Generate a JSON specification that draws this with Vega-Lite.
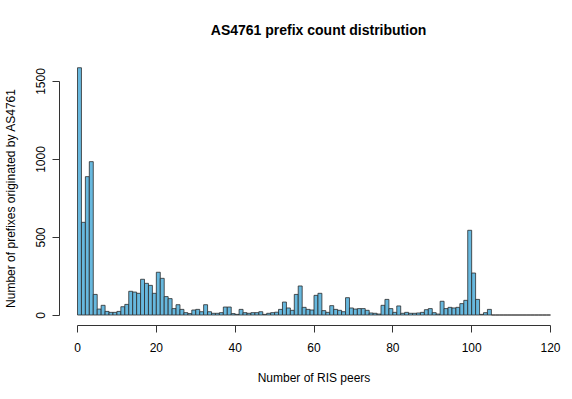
{
  "$schema": "https://vega.github.io/schema/vega-lite/v6.json",
  "width": 473,
  "height": 234,
  "autosize": {"type": "none"},
  "padding": {"left": 77, "top": 81, "right": 22, "bottom": 84},
  "background": "white",
  "title": {
    "text": "AS4761 prefix count distribution",
    "font": "Liberation Sans",
    "fontSize": 14,
    "fontWeight": "bold",
    "color": "black",
    "anchor": "middle",
    "offset": 29,
    "dx": 5
  },
  "config": {
    "view": {"stroke": null},
    "axis": {"labelFont": "Liberation Sans", "titleFont": "Liberation Sans", "labelFontSize": 12, "titleFontSize": 12, "titleFontWeight": "normal", "labelColor": "black", "titleColor": "black", "domainColor": "#333333", "tickColor": "#333333", "grid": false, "tickSize": 7, "labelFlush": false, "labelOverlap": false}
  },
  "data": {
    "values": [
      {"n":0,"c":1585},{"n":1,"c":594},{"n":2,"c":887},{"n":3,"c":983},{"n":4,"c":132},{"n":5,"c":38},{"n":6,"c":62},{"n":7,"c":23},{"n":8,"c":17},{"n":9,"c":17},
      {"n":10,"c":23},{"n":11,"c":53},{"n":12,"c":68},{"n":13,"c":152},{"n":14,"c":147},{"n":15,"c":139},{"n":16,"c":229},{"n":17,"c":203},{"n":18,"c":190},{"n":19,"c":139},
      {"n":20,"c":274},{"n":21,"c":235},{"n":22,"c":118},{"n":23,"c":105},{"n":24,"c":41},{"n":25,"c":66},{"n":26,"c":36},{"n":27,"c":15},{"n":28,"c":9},{"n":29,"c":32},
      {"n":30,"c":36},{"n":31,"c":21},{"n":32,"c":66},{"n":33,"c":21},{"n":34,"c":11},{"n":35,"c":11},{"n":36,"c":15},{"n":37,"c":51},{"n":38,"c":51},{"n":39,"c":9},
      {"n":40,"c":4},{"n":41,"c":36},{"n":42,"c":15},{"n":43,"c":11},{"n":44,"c":15},{"n":45,"c":15},{"n":46,"c":21},{"n":47,"c":4},{"n":48,"c":11},{"n":49,"c":15},
      {"n":50,"c":18},{"n":51,"c":36},{"n":52,"c":83},{"n":53,"c":45},{"n":54,"c":30},{"n":55,"c":132},{"n":56,"c":186},{"n":57,"c":49},{"n":58,"c":36},{"n":59,"c":32},
      {"n":60,"c":126},{"n":61,"c":139},{"n":62,"c":28},{"n":63,"c":17},{"n":64,"c":60},{"n":65,"c":36},{"n":66,"c":30},{"n":67,"c":21},{"n":68,"c":111},{"n":69,"c":45},
      {"n":70,"c":38},{"n":71,"c":41},{"n":72,"c":41},{"n":73,"c":30},{"n":74,"c":13},{"n":75,"c":11},{"n":76,"c":6},{"n":77,"c":62},{"n":78,"c":100},{"n":79,"c":41},
      {"n":80,"c":17},{"n":81,"c":58},{"n":82,"c":11},{"n":83,"c":17},{"n":84,"c":11},{"n":85,"c":11},{"n":86,"c":13},{"n":87,"c":17},{"n":88,"c":34},{"n":89,"c":41},
      {"n":90,"c":15},{"n":91,"c":6},{"n":92,"c":88},{"n":93,"c":41},{"n":94,"c":49},{"n":95,"c":45},{"n":96,"c":49},{"n":97,"c":73},{"n":98,"c":94},{"n":99,"c":543},
      {"n":100,"c":269},{"n":101,"c":100},{"n":102,"c":4},{"n":103,"c":15},{"n":104,"c":36},{"n":105,"c":0},{"n":106,"c":0},{"n":107,"c":0},{"n":108,"c":0},{"n":109,"c":0},
      {"n":110,"c":0},{"n":111,"c":0},{"n":112,"c":0},{"n":113,"c":0},{"n":114,"c":0},{"n":115,"c":0},{"n":116,"c":0},{"n":117,"c":0},{"n":118,"c":0},{"n":119,"c":0}
    ]
  },
  "mark": {"type": "bar", "orient": "vertical", "fill": "#67b8de", "stroke": "#2b2b2b", "strokeWidth": 0.8, "binSpacing": 0, "clip": false},
  "encoding": {
    "x": {
      "field": "n", "type": "quantitative",
      "bin": {"binned": true, "step": 1},
      "scale": {"domain": [0, 120], "nice": false, "zero": false},
      "axis": {"title": "Number of RIS peers", "values": [0, 20, 40, 60, 80, 100, 120], "format": "d", "offset": 10, "labelPadding": 10, "titlePadding": 19}
    },
    "y": {
      "field": "c", "type": "quantitative",
      "scale": {"domain": [0, 1500], "nice": false},
      "axis": {"title": "Number of prefixes originated by AS4761", "values": [0, 500, 1000, 1500], "format": "d", "offset": 18, "labelAngle": -90, "labelAlign": "center", "labelBaseline": "bottom", "labelPadding": 5, "titlePadding": 17}
    },
    "y2": {"datum": 0}
  }
}
